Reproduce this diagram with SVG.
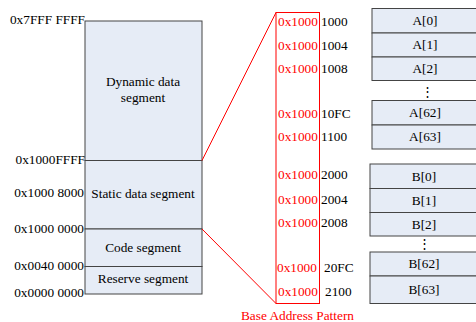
<svg xmlns="http://www.w3.org/2000/svg" width="476" height="322" viewBox="0 0 476 322" font-family="'Liberation Serif', 'Times New Roman', serif" font-size="13.3">
<style>
.box{fill:#e6ecf6;stroke:#444;stroke-width:1}
.red{fill:#ff0000}
.lbl{text-anchor:end}
.c{text-anchor:middle}
.rl{stroke:#ff0000;stroke-width:1;fill:none}
</style>
<rect width="476" height="322" fill="#fff"/>
<g id="memory">
  <g id="dynamic"><rect class="box" x="85" y="21" width="117" height="139.5"/><text class="c" x="143" y="86">Dynamic data</text><text class="c" x="143" y="102">segment</text></g>
  <g id="static"><rect class="box" x="85" y="160.5" width="117" height="68.5"/><text class="c" x="143" y="198">Static data segment</text></g>
  <g id="code"><rect class="box" x="85" y="229" width="117" height="37.5"/><text class="c" x="143" y="252">Code segment</text></g>
  <g id="reserve"><rect class="box" x="85" y="266.5" width="117" height="27.5"/><text class="c" x="143" y="283">Reserve segment</text></g>
</g>
<g id="addr-labels">
  <text class="lbl" x="85" y="24">0x7FFF FFFF</text>
  <text class="lbl" x="85" y="164">0x1000FFFF</text>
  <text class="lbl" x="84" y="197">0x1000 8000</text>
  <text class="lbl" x="84" y="233">0x1000 0000</text>
  <text class="lbl" x="84" y="270">0x0040 0000</text>
  <text class="lbl" x="84" y="297">0x0000 0000</text>
</g>
<g id="connectors">
  <line class="rl" x1="202" y1="160.5" x2="276" y2="12.5"/>
  <line class="rl" x1="202" y1="229" x2="276" y2="303.5"/>
</g>
<g id="base-pattern">
  <rect class="rl" x="276" y="12.5" width="43.5" height="291"/>
  <text class="red" x="278" y="26">0x1000</text><text x="321" y="26">1000</text>
  <text class="red" x="278" y="50">0x1000</text><text x="321" y="50">1004</text>
  <text class="red" x="278" y="73">0x1000</text><text x="321" y="73">1008</text>
  <text class="red" x="278" y="118">0x1000</text><text x="321" y="118">10FC</text>
  <text class="red" x="278" y="141">0x1000</text><text x="321" y="141">1100</text>
  <text class="red" x="278" y="178.5">0x1000</text><text x="321" y="178.5">2000</text>
  <text class="red" x="278" y="203.5">0x1000</text><text x="321" y="203.5">2004</text>
  <text class="red" x="278" y="227">0x1000</text><text x="321" y="227">2008</text>
  <text class="red" x="277" y="271.5">0x1000</text><text x="324" y="271.5">20FC</text>
  <text class="red" x="278" y="296">0x1000</text><text x="325" y="296">2100</text>
  <text class="red c" x="297.5" y="320">Base Address Pattern</text>
</g>
<g id="array-a">
  <g id="a0"><rect class="box" x="372" y="8.5" width="106" height="24.5"/><text class="c" x="425" y="25">A[0]</text></g>
  <g id="a1"><rect class="box" x="372" y="33" width="106" height="24"/><text class="c" x="425" y="49">A[1]</text></g>
  <g id="a2"><rect class="box" x="372" y="57" width="106" height="23.5"/><text class="c" x="425" y="73">A[2]</text></g>
  <text class="c" x="427" y="96">⋮</text>
  <g id="a62"><rect class="box" x="372" y="100.5" width="106" height="24.5"/><text class="c" x="425" y="117">A[62]</text></g>
  <g id="a63"><rect class="box" x="372" y="125" width="106" height="24"/><text class="c" x="425" y="141">A[63]</text></g>
</g>
<g id="array-b">
  <g id="b0"><rect class="box" x="370" y="164" width="108" height="24.5"/><text class="c" x="424" y="180.5">B[0]</text></g>
  <g id="b1"><rect class="box" x="370" y="188.5" width="108" height="24"/><text class="c" x="424" y="204.5">B[1]</text></g>
  <g id="b2"><rect class="box" x="370" y="212.5" width="108" height="23.5"/><text class="c" x="424" y="228.5">B[2]</text></g>
  <text class="c" x="424" y="248">⋮</text>
  <g id="b62"><rect class="box" x="370" y="252" width="108" height="24"/><text class="c" x="424" y="268">B[62]</text></g>
  <g id="b63"><rect class="box" x="370" y="276" width="108" height="27.5"/><text class="c" x="424" y="294">B[63]</text></g>
</g>
</svg>
